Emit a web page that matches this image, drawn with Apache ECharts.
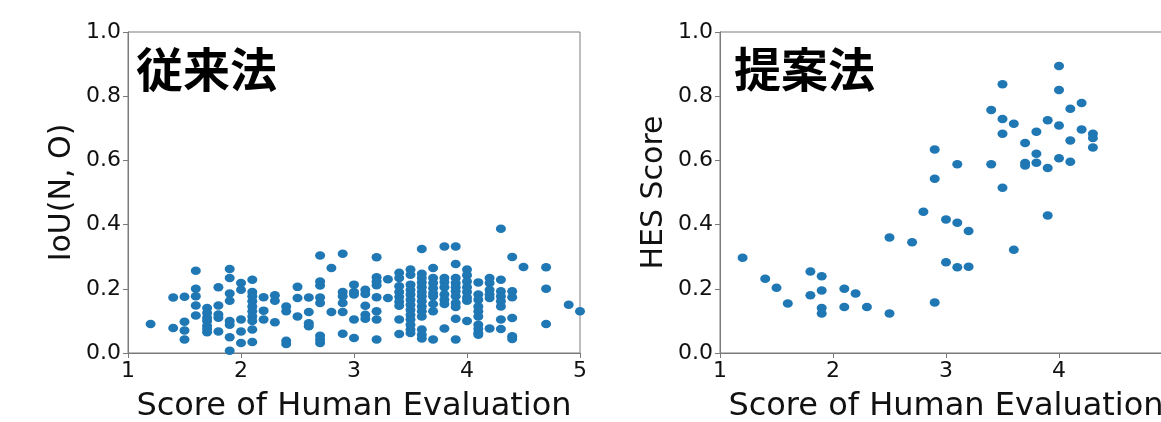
<!DOCTYPE html>
<html>
<head>
<meta charset="utf-8">
<script src="https://cdn.jsdelivr.net/npm/echarts@6/dist/echarts.min.js"></script>
<style>
html,body{margin:0;padding:0;background:#fff;overflow:hidden;}
#chart{width:1161px;height:422px;}
</style>
</head>
<body>
<div id="chart"></div>
<script>
// ---- Data ----
const panelTitles = ['従来法', '提案法'];
const yAxisNames = ['IoU(N, O)', 'HES Score'];
const xAxisName = 'Score of Human Evaluation';
const xTicks = [1, 2, 3, 4, 5];
const yTicks = [0.0, 0.2, 0.4, 0.6, 0.8, 1.0];

// Conventional method: human score -> list of IoU values at that score
const convScores = [1.2, 1.4, 1.5, 1.6, 1.7, 1.8, 1.9, 2.0, 2.1, 2.2, 2.3, 2.4, 2.5, 2.6, 2.7, 2.8, 2.9, 3.0, 3.1, 3.2, 3.3, 3.4, 3.5, 3.6, 3.7, 3.8, 3.9, 4.0, 4.1, 4.2, 4.3, 4.4, 4.5, 4.7, 4.9, 5.0];
const convIoU = [
  [0.09],
  [0.173, 0.078],
  [0.175, 0.097, 0.07, 0.042],
  [0.256, 0.20, 0.177, 0.148, 0.117],
  [0.14, 0.125, 0.11, 0.10, 0.085, 0.075, 0.065],
  [0.205, 0.148, 0.12, 0.11, 0.067],
  [0.262, 0.234, 0.185, 0.163, 0.10, 0.088, 0.049, 0.007],
  [0.218, 0.197, 0.104, 0.067, 0.031],
  [0.228, 0.19, 0.177, 0.161, 0.145, 0.13, 0.114, 0.10, 0.073, 0.034],
  [0.174, 0.132, 0.104],
  [0.18, 0.163, 0.096],
  [0.145, 0.13, 0.038, 0.028],
  [0.206, 0.171, 0.114],
  [0.173, 0.128, 0.093, 0.083],
  [0.304, 0.223, 0.21, 0.173, 0.156, 0.054, 0.042, 0.031],
  [0.265, 0.128],
  [0.309, 0.19, 0.177, 0.156, 0.128, 0.06],
  [0.213, 0.19, 0.182, 0.104, 0.047],
  [0.197, 0.184, 0.147, 0.119, 0.107],
  [0.298, 0.236, 0.223, 0.211, 0.174, 0.13, 0.104, 0.042],
  [0.23, 0.171],
  [0.25, 0.234, 0.208, 0.19, 0.175, 0.16, 0.147, 0.104, 0.059],
  [0.26, 0.244, 0.213, 0.197, 0.182, 0.166, 0.15, 0.135, 0.119, 0.104, 0.088, 0.073, 0.062],
  [0.324, 0.247, 0.234, 0.22, 0.205, 0.19, 0.177, 0.161, 0.145, 0.13, 0.114, 0.073, 0.057, 0.045],
  [0.265, 0.234, 0.218, 0.202, 0.187, 0.177, 0.153, 0.13, 0.042],
  [0.332, 0.234, 0.221, 0.205, 0.182, 0.166, 0.153, 0.076],
  [0.332, 0.277, 0.234, 0.218, 0.205, 0.192, 0.177, 0.156, 0.143, 0.107, 0.042],
  [0.26, 0.242, 0.223, 0.205, 0.19, 0.173, 0.163, 0.10],
  [0.22, 0.182, 0.166, 0.145, 0.13, 0.114, 0.088, 0.075, 0.062, 0.057],
  [0.234, 0.218, 0.197, 0.182, 0.171, 0.076],
  [0.387, 0.228, 0.192, 0.177, 0.161, 0.145, 0.104, 0.075],
  [0.299, 0.192, 0.174, 0.109, 0.052, 0.044],
  [0.268],
  [0.267, 0.20, 0.09],
  [0.15],
  [0.13]
];

// Proposed method: paired human score and HES score
const propScores = [1.2, 1.4, 1.5, 1.6, 1.8, 1.8, 1.9, 1.9, 1.9, 1.9, 2.1, 2.1, 2.2, 2.3, 2.5, 2.5, 2.7, 2.8, 2.9, 2.9, 2.9, 3.0, 3.0, 3.1, 3.1, 3.1, 3.2, 3.2, 3.4, 3.4, 3.5, 3.5, 3.5, 3.5, 3.6, 3.6, 3.7, 3.7, 3.7, 3.8, 3.8, 3.8, 3.9, 3.9, 3.9, 4.0, 4.0, 4.0, 4.0, 4.1, 4.1, 4.1, 4.2, 4.2, 4.3, 4.3, 4.3];
const propHES = [0.297, 0.231, 0.203, 0.154, 0.254, 0.18, 0.239, 0.195, 0.14, 0.123, 0.20, 0.143, 0.185, 0.143, 0.36, 0.123, 0.345, 0.44, 0.634, 0.543, 0.157, 0.416, 0.283, 0.588, 0.406, 0.267, 0.38, 0.269, 0.757, 0.588, 0.837, 0.729, 0.683, 0.515, 0.714, 0.322, 0.654, 0.592, 0.584, 0.689, 0.621, 0.593, 0.725, 0.576, 0.428, 0.894, 0.819, 0.709, 0.607, 0.761, 0.662, 0.596, 0.779, 0.696, 0.683, 0.67, 0.64];

// ---- Build series data ----
const convData = [];
convScores.forEach((s, i) => convIoU[i].forEach(v => convData.push([s, v])));
const propData = propScores.map((s, i) => [s, propHES[i]]);

const FONT = 'DejaVu Sans';
const SPINE = '#7a7a7a';
const DOT = '#1f77b4';

function xAxisCfg(gridIndex) {
  return {
    type: 'value', gridIndex,
    min: xTicks[0], max: xTicks[xTicks.length - 1], interval: 1,
    name: xAxisName, nameLocation: 'middle', nameGap: 38,
    nameTextStyle: { fontFamily: FONT, fontSize: 32, color: '#111' },
    axisLine: { show: true, lineStyle: { color: SPINE, width: 1 } },
    axisTick: { show: true, inside: false, length: 5, lineStyle: { color: SPINE } },
    axisLabel: { margin: 7, fontFamily: FONT, fontSize: 22, color: '#111', formatter: v => String(v) },
    splitLine: { show: false }
  };
}
function yAxisCfg(gridIndex, name) {
  return {
    type: 'value', gridIndex,
    min: yTicks[0], max: yTicks[yTicks.length - 1], interval: 0.2,
    name, nameLocation: 'middle', nameGap: 51, nameRotate: 90,
    nameTextStyle: { fontFamily: FONT, fontSize: 30, color: '#111' },
    axisLine: { show: true, lineStyle: { color: SPINE, width: 1 } },
    axisTick: { show: true, inside: false, length: 5, lineStyle: { color: SPINE } },
    axisLabel: { margin: 7, fontFamily: FONT, fontSize: 22, color: '#111', formatter: v => v.toFixed(1) },
    splitLine: { show: false }
  };
}

const chart = echarts.init(document.getElementById('chart'), null, { renderer: 'canvas' });
chart.setOption({
  animation: false,
  backgroundColor: '#fff',
  title: [
    { text: panelTitles[0], left: 136, top: 46, padding: 0,
      textStyle: { fontFamily: 'Noto Sans CJK JP', fontWeight: 'bold', fontSize: 47, color: '#000' } },
    { text: panelTitles[1], left: 734, top: 46, padding: 0,
      textStyle: { fontFamily: 'Noto Sans CJK JP', fontWeight: 'bold', fontSize: 47, color: '#000' } }
  ],
  grid: [
    { left: 128, top: 32, width: 452, height: 321, show: true, borderColor: SPINE, borderWidth: 1,
      backgroundColor: 'transparent', outerBoundsMode: 'none', containLabel: false },
    { left: 720, top: 32, width: 452, height: 321, show: true, borderColor: SPINE, borderWidth: 1,
      backgroundColor: 'transparent', outerBoundsMode: 'none', containLabel: false }
  ],
  xAxis: [xAxisCfg(0), xAxisCfg(1)],
  yAxis: [yAxisCfg(0, yAxisNames[0]), yAxisCfg(1, yAxisNames[1])],
  series: [
    { type: 'scatter', xAxisIndex: 0, yAxisIndex: 0, data: convData,
      symbol: 'circle', symbolSize: [10, 8.5], itemStyle: { color: DOT, opacity: 1 } },
    { type: 'scatter', xAxisIndex: 1, yAxisIndex: 1, data: propData,
      symbol: 'circle', symbolSize: [10, 8.5], itemStyle: { color: DOT, opacity: 1 } }
  ]
});
</script>
</body>
</html>
